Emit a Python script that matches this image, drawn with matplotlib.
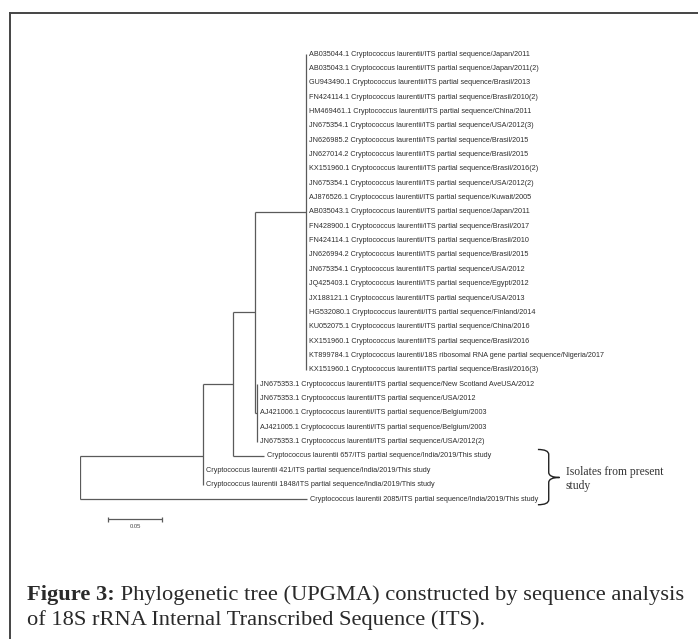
import matplotlib
matplotlib.use("Agg")
import matplotlib.pyplot as plt
from matplotlib.path import Path
from matplotlib.patches import PathPatch
from matplotlib.lines import Line2D

# -----------------------------------------
# TREE DATA (branch depths, rows = leaf order)
# -----------------------------------------

top_labels = [
    "AB035044.1 Cryptococcus laurentii/ITS partial sequence/Japan/2011",
    "AB035043.1 Cryptococcus laurentii/ITS partial sequence/Japan/2011(2)",
    "GU943490.1 Cryptococcus laurentii/ITS partial sequence/Brasil/2013",
    "FN424114.1 Cryptococcus laurentii/ITS partial sequence/Brasil/2010(2)",
    "HM469461.1 Cryptococcus laurentii/ITS partial sequence/China/2011",
    "JN675354.1 Cryptococcus laurentii/ITS partial sequence/USA/2012(3)",
    "JN626985.2 Cryptococcus laurentii/ITS partial sequence/Brasil/2015",
    "JN627014.2 Cryptococcus laurentii/ITS partial sequence/Brasil/2015",
    "KX151960.1 Cryptococcus laurentii/ITS partial sequence/Brasil/2016(2)",
    "JN675354.1 Cryptococcus laurentii/ITS partial sequence/USA/2012(2)",
    "AJ876526.1 Cryptococcus laurentii/ITS partial sequence/Kuwait/2005",
    "AB035043.1 Cryptococcus laurentii/ITS partial sequence/Japan/2011",
    "FN428900.1 Cryptococcus laurentii/ITS partial sequence/Brasil/2017",
    "FN424114.1 Cryptococcus laurentii/ITS partial sequence/Brasil/2010",
    "JN626994.2 Cryptococcus laurentii/ITS partial sequence/Brasil/2015",
    "JN675354.1 Cryptococcus laurentii/ITS partial sequence/USA/2012",
    "JQ425403.1 Cryptococcus laurentii/ITS partial sequence/Egypt/2012",
    "JX188121.1 Cryptococcus laurentii/ITS partial sequence/USA/2013",
    "HG532080.1 Cryptococcus laurentii/ITS partial sequence/Finland/2014",
    "KU052075.1 Cryptococcus laurentii/ITS partial sequence/China/2016",
    "KX151960.1 Cryptococcus laurentii/ITS partial sequence/Brasil/2016",
    "KT899784.1 Cryptococcus laurentii/18S ribosomal RNA gene partial sequence/Nigeria/2017",
    "KX151960.1 Cryptococcus laurentii/ITS partial sequence/Brasil/2016(3)",
]

mid_labels = [
    "JN675353.1 Cryptococcus laurentii/ITS partial sequence/New Scotland AveUSA/2012",
    "JN675353.1 Cryptococcus laurentii/ITS partial sequence/USA/2012",
    "AJ421006.1 Cryptococcus laurentii/ITS partial sequence/Belgium/2003",
    "AJ421005.1 Cryptococcus laurentii/ITS partial sequence/Belgium/2003",
    "JN675353.1 Cryptococcus laurentii/ITS partial sequence/USA/2012(2)",
]

india_labels = [
    "Cryptococcus laurentii 657/ITS partial sequence/India/2019/This study",
    "Cryptococcus laurentii 421/ITS partial sequence/India/2019/This study",
    "Cryptococcus laurentii 1848/ITS partial sequence/India/2019/This study",
    "Cryptococcus laurentii 2085/ITS partial sequence/India/2019/This study",
]
india_parent = ["B", "C", "C", "root"]
india_depth = [0.170, 0.1135, 0.1135, 0.210]

# internal nodes: name, depth, row, parent
node_names = ["root", "C", "B", "A", "T", "M"]
node_depth = [0.0, 0.1135, 0.142, 0.162, 0.2093, 0.164]
node_row = [30.95, 28.0, 23.0, 18.0, 11.0, 25.0]
node_parent = [None, "root", "C", "B", "A", "A"]

scale_len = 0.05
scale_label = "0.05"
brace_text = "Isolates from present\nstudy"
caption_bold = "Figure 3:"
caption_rest = " Phylogenetic tree (UPGMA) constructed by sequence analysis"
caption_line2 = "of 18S rRNA Internal Transcribed Sequence (ITS)."

# -----------------------------------------
# BUILD LEAF TABLE
# -----------------------------------------

labels = top_labels + mid_labels + india_labels
parents = ["T"] * len(top_labels) + ["M"] * len(mid_labels) + india_parent
ndep = dict(zip(node_names, node_depth))
leaf_depth = [ndep["T"]] * len(top_labels) + [ndep["M"]] * len(mid_labels) + india_depth
leaf_row = list(range(len(labels)))

# every item (leaf or node) -> (depth, row, parent)
items = []
for d, r, p in zip(leaf_depth, leaf_row, parents):
    items.append((d, r, p))
for n, d, r, p in zip(node_names, node_depth, node_row, node_parent):
    if p is not None:
        items.append((d, r, p))

# -----------------------------------------
# FIGURE
# -----------------------------------------

W, H = 698, 639
fig = plt.figure(figsize=(W / 100, H / 100), dpi=100)

# axes placed so that depth 0 sits at x=80px and 1 unit = 1080px
x0_px, px_per_unit = 80, 1080
row0_px, px_per_row = 54, 14.355
xlim = (0, 0.5)
ylim = (34, -1)
ax_left = x0_px / W
ax_w = (xlim[1] - xlim[0]) * px_per_unit / W
top_px = row0_px + ylim[1] * px_per_row
bot_px = row0_px + ylim[0] * px_per_row
ax = fig.add_axes([ax_left, 1 - bot_px / H, ax_w, (bot_px - top_px) / H])
ax.set_xlim(*xlim)
ax.set_ylim(*ylim)
ax.axis("off")

line_kw = dict(color="#5a5a5a", lw=0.9, solid_capstyle="butt")

# horizontal branches
for d, r, p in items:
    pd = ndep[p]
    if d > pd:
        ax.plot([pd, d], [r, r], **line_kw)

# vertical connectors
for n, d, r in zip(node_names, node_depth, node_row):
    rows = [it[1] for it in items if it[2] == n] + [r]
    if n == "root":
        rows = [it[1] for it in items if it[2] == n]
    ax.plot([d, d], [min(rows), max(rows)], **line_kw)

# leaf labels
for lab, d, r in zip(labels, leaf_depth, leaf_row):
    ax.text(d + 0.0030, r, lab, fontsize=5.2, family="Liberation Sans",
            color="#2e2e2e", va="center", ha="left")

# scale bar
sb_x, sb_row = 0.026, 32.4
ax.plot([sb_x, sb_x + scale_len], [sb_row, sb_row], **line_kw)
for xx in (sb_x, sb_x + scale_len):
    ax.plot([xx, xx], [sb_row - 0.18, sb_row + 0.18], **line_kw)
ax.text(sb_x + scale_len / 2, sb_row + 0.5, scale_label, fontsize=4.2,
        family="Liberation Sans", color="#444444", ha="center", va="center")

# brace around the study isolates
bx0, bxm, bxt = 0.424, 0.434, 0.444
by_top, by_mid, by_bot = 27.55, 29.5, 31.4
rr = 0.35
verts = [
    (bx0, by_top), (bxm, by_top), (bxm, by_top + rr),
    (bxm, by_mid - rr), (bxm, by_mid), (bxt, by_mid),
    (bxm, by_mid), (bxm, by_mid + rr),
    (bxm, by_bot - rr), (bxm, by_bot), (bx0, by_bot),
]
codes = [Path.MOVETO, Path.CURVE3, Path.CURVE3,
         Path.LINETO, Path.CURVE3, Path.CURVE3,
         Path.CURVE3, Path.CURVE3,
         Path.LINETO, Path.CURVE3, Path.CURVE3]
ax.add_patch(PathPatch(Path(verts, codes), fill=False, ec="#222222", lw=1.0))
ax.text(0.450, 29.6, brace_text, fontsize=8.4, family="Liberation Serif",
        color="#333333", va="center", ha="left", linespacing=1.2)

# frame (top and left edges only)
fig.add_artist(Line2D([9.5 / W, 1], [1 - 12.5 / H, 1 - 12.5 / H],
                      transform=fig.transFigure, color="#444444", lw=1.4))
fig.add_artist(Line2D([9.5 / W, 9.5 / W], [0, 1 - 12.5 / H],
                      transform=fig.transFigure, color="#444444", lw=1.4))

# caption
cap_size = 16.2
t1 = fig.text(27 / W, 1 - 595 / H, caption_bold, fontsize=cap_size, weight="bold",
              family="Liberation Serif", color="#2a2a2a", va="center", ha="left")
fig.canvas.draw()
bb = t1.get_window_extent()
fig.text(bb.x1 / W, 1 - 595 / H, caption_rest, fontsize=cap_size,
         family="Liberation Serif", color="#2a2a2a", va="center", ha="left")
fig.text(27 / W, 1 - 620 / H, caption_line2, fontsize=cap_size,
         family="Liberation Serif", color="#2a2a2a", va="center", ha="left")

fig.savefig("out.png", dpi=100)
